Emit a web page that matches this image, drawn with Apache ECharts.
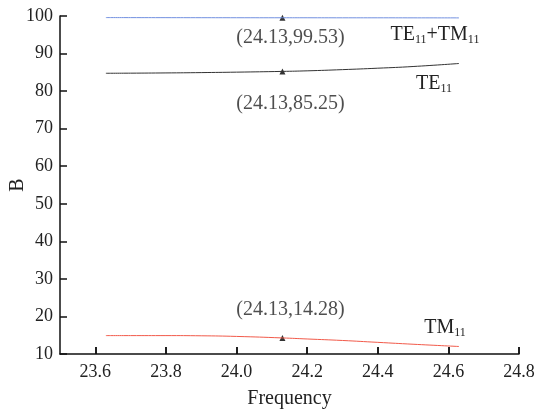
<!DOCTYPE html>
<html>
<head>
<meta charset="utf-8">
<script src="https://cdn.jsdelivr.net/npm/echarts@6/dist/echarts.min.js"></script>
<style>
  html, body { margin: 0; padding: 0; background: #fff; }
  #main { width: 551px; height: 412px; }
</style>
</head>
<body>
<div id="main"></div>
<script>
var freq = [23.63, 23.7, 23.8, 23.9, 24.0, 24.13, 24.2, 24.3, 24.4, 24.5, 24.63];
var teTm = [99.58, 99.57, 99.56, 99.55, 99.54, 99.53, 99.53, 99.52, 99.52, 99.51, 99.5];
var te = [84.75, 84.78, 84.84, 84.93, 85.05, 85.25, 85.4, 85.72, 86.1, 86.55, 87.35];
var tm = [14.9, 14.9, 14.9, 14.85, 14.68, 14.28, 14.0, 13.6, 13.1, 12.6, 12.0];
var xTicks = [23.6, 23.8, 24.0, 24.2, 24.4, 24.6, 24.8];
var markX = 24.13;
var markTeTm = 99.53, markTe = 85.25, markTm = 14.28;

var font = 'Liberation Serif';
var txt = '#222';
var xMin = 23.5, xMax = 24.8;
var gridL = 60, gridR = 32, gridT = 16, gridB = 58, W = 551, H = 412;
var tickLen = 7;

function pairs(ys) {
  return freq.map(function (x, i) { return [x, ys[i]]; });
}

var rich = {
  n: { fontFamily: font, fontSize: 20, color: txt },
  s: { fontFamily: font, fontSize: 12, color: txt, verticalAlign: 'bottom', padding: [10, 0, 0, 0] }
};

function endLabel(text, off) {
  return {
    show: true, distance: 0, align: 'center', verticalAlign: 'middle',
    offset: off, formatter: text, rich: rich
  };
}

// thin strip grid along the bottom axis, starting at the first tick; its split lines are the x ticks
var plotW = W - gridL - gridR;
var tickGridL = gridL + (xTicks[0] - xMin) / (xMax - xMin) * plotW;

var chart = echarts.init(document.getElementById('main'));

chart.setOption({
  backgroundColor: '#fff',
  animation: false,
  grid: [
    { left: gridL, right: gridR, top: gridT, bottom: gridB, outerBoundsMode: 'none', containLabel: false },
    { left: tickGridL, right: gridR, top: H - gridB - tickLen, bottom: gridB, outerBoundsMode: 'none', containLabel: false }
  ],
  graphic: [{
    type: 'text', x: 18, y: 185, rotation: Math.PI / 2,
    style: { text: 'B', fontFamily: font, fontSize: 20, fill: txt, align: 'center', verticalAlign: 'middle' }
  }],
  xAxis: [{
    type: 'value',
    min: xMin, max: xMax,
    name: 'Frequency', nameLocation: 'middle', nameGap: 35,
    nameTextStyle: { fontFamily: font, fontSize: 20, color: txt },
    axisLine: { show: true, onZero: false, lineStyle: { color: '#111', width: 1.5 } },
    axisTick: { show: true, inside: true, length: tickLen, customValues: xTicks, lineStyle: { color: '#111', width: 1.5 } },
    axisLabel: {
      fontFamily: font, fontSize: 18, color: txt, margin: 9,
      customValues: xTicks,
      formatter: function (v) { return v.toFixed(1); }
    },
    splitLine: { show: false }
  }, {
    type: 'value', gridIndex: 1,
    min: xTicks[0], max: xTicks[xTicks.length - 1], interval: 0.2,
    axisLine: { show: false, onZero: false },
    axisTick: { show: false },
    axisLabel: { show: false },
    splitLine: { show: true, lineStyle: { color: '#111', width: 1.5 } }
  }],
  yAxis: [{
    type: 'value',
    min: 10, max: 100, interval: 10,
    axisLine: { show: true, onZero: false, lineStyle: { color: '#111', width: 1.5 } },
    axisTick: { show: true, inside: true, length: tickLen, lineStyle: { color: '#111', width: 1.5 } },
    axisLabel: { fontFamily: font, fontSize: 18, color: txt, margin: 7 },
    splitLine: { show: false }
  }, {
    type: 'value', gridIndex: 1,
    min: 10, max: 100,
    axisLine: { show: false }, axisTick: { show: false },
    axisLabel: { show: false }, splitLine: { show: false }
  }],
  series: [{
    name: 'TE11+TM11',
    type: 'line', smooth: true, showSymbol: false,
    lineStyle: { color: '#7290e0', width: 1 },
    endLabel: endLabel('{n|TE}{s|11}{n|+TM}{s|11}', [-24, 17]),
    data: pairs(teTm)
  }, {
    name: 'TE11',
    type: 'line', smooth: true, showSymbol: false,
    lineStyle: { color: '#333', width: 1 },
    endLabel: endLabel('{n|TE}{s|11}', [-25, 20]),
    data: pairs(te)
  }, {
    name: 'TM11',
    type: 'line', smooth: true, showSymbol: false,
    lineStyle: { color: '#f25a4a', width: 1 },
    endLabel: endLabel('{n|TM}{s|11}', [-14, -19]),
    data: pairs(tm)
  }, {
    // invisible copy on the tick strip so its axis is not blank
    name: 'tickHolder',
    type: 'line', xAxisIndex: 1, yAxisIndex: 1,
    showSymbol: false, silent: true,
    lineStyle: { opacity: 0 },
    data: pairs(tm)
  }, {
    name: 'marks',
    type: 'scatter',
    symbol: 'triangle', symbolSize: 6,
    itemStyle: { color: '#000' },
    label: {
      show: true, position: 'inside',
      fontFamily: font, fontSize: 20, color: txt,
      formatter: function (p) { return '(' + p.value[0].toFixed(2) + ',' + p.value[1].toFixed(2) + ')'; }
    },
    data: [
      { value: [markX, markTeTm], label: { offset: [8, 20] } },
      { value: [markX, markTe], label: { offset: [8, 32] } },
      { value: [markX, markTm], label: { offset: [8, -28] } }
    ]
  }]
});
</script>
</body>
</html>
